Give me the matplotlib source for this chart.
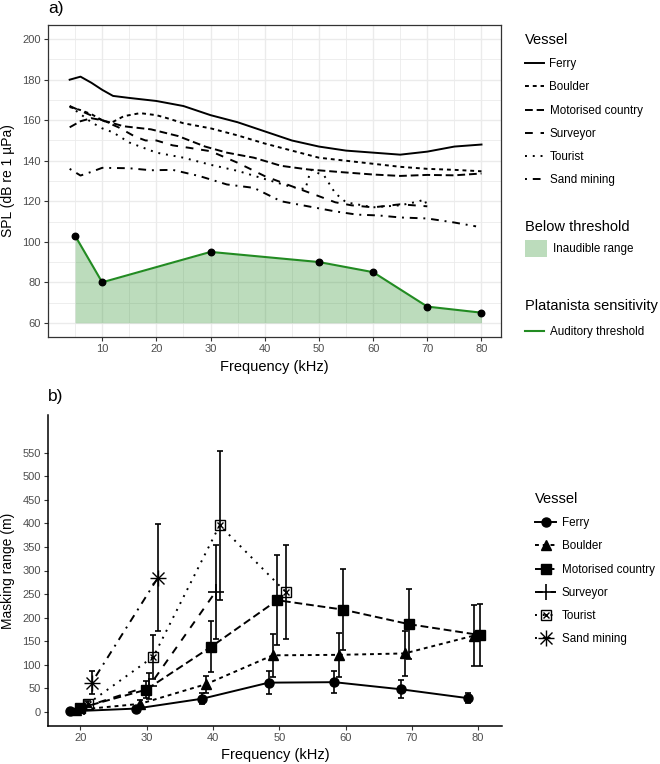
import matplotlib
matplotlib.use('Agg')
import matplotlib.pyplot as plt
from matplotlib.lines import Line2D
from matplotlib.patches import Patch
from matplotlib.ticker import MultipleLocator

plt.rcParams['font.family'] = ['Liberation Sans', 'DejaVu Sans']

# ---- panel a data: source levels (dB re 1 uPa) ----
ferry_f = [4, 6, 8, 10, 12, 15, 20, 25, 30, 35, 40, 45, 50, 55, 60, 65, 70, 75, 80]
ferry_v = [180, 181.5, 178.5, 175, 172, 171, 169.5, 167, 162.5, 159, 154.5, 150, 147,
           145, 144, 143, 144.5, 147, 148]
boulder_f = [4, 6, 8, 10, 11.5, 14, 17, 20, 22, 25, 30, 35, 40, 45, 50, 55, 60, 65, 70, 75, 80]
boulder_v = [166.5, 165, 163, 160, 158.5, 162, 163.5, 162.5, 161, 158.5, 156, 152.5, 148.5,
             145, 141.5, 140, 138.5, 137, 136, 135.5, 134.8]
motor_f = [4, 6, 8, 10, 12, 14, 19, 24, 29, 33, 38, 43, 48, 54, 60, 65, 70, 75, 80]
motor_v = [156.5, 159.5, 161, 160, 158.5, 157, 155.5, 152.2, 147, 144, 141.5, 137.5, 135.7,
           134.4, 133.2, 132.5, 133, 132.8, 133.7]
survey_f = [4, 7, 10, 13, 16, 18, 20, 23, 26, 30, 35, 40, 45, 50, 53, 56, 60, 65, 70]
survey_v = [167, 163.5, 160, 156.5, 152, 150, 150, 147.6, 146.4, 144.7, 139, 132.4, 127.4,
            122.5, 119.5, 118, 117, 118.5, 117.5]
tourist_f = [4, 6, 8, 10, 12, 15, 20, 25, 30, 35, 40, 45, 47.5, 48.5, 51, 53, 55, 60, 65,
             68.5, 69.5, 70]
tourist_v = [167, 163, 159, 156, 154, 149, 144, 141.5, 138, 135, 131, 127, 126, 135.5, 132.5,
             124, 119.5, 117, 118, 120, 121, 117]
sand_f = [4, 6, 8, 10, 15, 19, 23, 28, 33, 38, 43, 48, 53, 57, 61, 65, 70, 75, 79]
sand_v = [136, 132.7, 134.5, 136.5, 136.3, 135.3, 135.5, 132.4, 128.3, 126.6, 120, 117.5,
          115, 113.4, 113, 112, 111.5, 109.5, 107.6]

thr_f = [5, 10, 30, 50, 60, 70, 80]
thr_v = [103, 80, 95, 90, 85, 68, 65]

# ---- panel b data: masking range (m) ----
b_ferry_f = [18.4, 28.4, 38.4, 48.4, 58.3, 68.3, 78.5]
b_ferry_m = [1, 7, 28, 62, 63, 48, 29]
b_ferry_e = [2, 3, 11, 24, 24, 19, 11]
b_boulder_f = [19.3, 29.0, 39.0, 49.0, 59.0, 68.9, 79.4]
b_boulder_m = [4, 17, 59, 120, 121, 124, 162]
b_boulder_e = [3, 8, 18, 46, 47, 48, 64]
b_motor_f = [19.9, 29.9, 39.7, 49.7, 59.6, 69.6, 80.3]
b_motor_m = [8, 47, 138, 237, 217, 186, 163]
b_motor_e = [4, 18, 54, 96, 86, 74, 65]
b_survey_f = [20.5, 30.4, 40.4]
b_survey_m = [10, 55, 255]
b_survey_e = [5, 28, 100]
b_tourist_f = [21.1, 31.0, 41.0, 51.0]
b_tourist_m = [17, 117, 396, 254]
b_tourist_e = [6, 47, 158, 100]
b_sand_f = [21.7, 31.7]
b_sand_m = [62, 285]
b_sand_e = [24, 113]

vessels = ['Ferry', 'Boulder', 'Motorised country', 'Surveyor', 'Tourist', 'Sand mining']
styles = ['-', (0, (2, 2)), (0, (4, 2)), (0, (4, 4)), (0, (1, 3)), (0, (1, 3, 4, 3))]

W, H = 660, 764


def box(l, t, r, b):
    return [l / W, 1 - b / H, (r - l) / W, (b - t) / H]


fig = plt.figure(figsize=(W / 100, H / 100), dpi=100)
ax1 = fig.add_axes(box(48, 25, 501, 337))
ax2 = fig.add_axes(box(48, 415, 502, 726))

tick_col = '#4D4D4D'

# ---------------- panel a ----------------
ax1.fill_between(thr_f, 60, thr_v, color='forestgreen', alpha=0.3, lw=0)
ax1.plot(thr_f, thr_v, color='forestgreen', lw=1.5)
ax1.scatter(thr_f, thr_v, color='black', s=22, zorder=5)

series_a = [(ferry_f, ferry_v), (boulder_f, boulder_v), (motor_f, motor_v),
            (survey_f, survey_v), (tourist_f, tourist_v), (sand_f, sand_v)]
for (f, v), ls in zip(series_a, styles):
    ax1.plot(f, v, color='black', lw=1.4, linestyle=ls)

ax1.set_xlim(0, 83.6)
ax1.set_ylim(53, 207)
ax1.xaxis.set_minor_locator(MultipleLocator(5))
ax1.yaxis.set_minor_locator(MultipleLocator(10))
ax1.set_xticks(range(10, 81, 10))
ax1.set_yticks(range(60, 201, 20))
ax1.grid(which='major', color='#EBEBEB', lw=1.0)
ax1.grid(which='minor', color='#EBEBEB', lw=0.6)
ax1.set_axisbelow(True)
for s in ax1.spines.values():
    s.set_color('#333333')
    s.set_linewidth(0.9)
ax1.tick_params(which='major', length=3, color='#333333', labelsize=8, labelcolor=tick_col, pad=2)
ax1.tick_params(which='minor', length=0)
ax1.set_xlabel('Frequency (kHz)', fontsize=10.5, labelpad=4)
ax1.set_ylabel('SPL (dB re 1 µPa)', fontsize=10)
ax1.yaxis.set_label_coords(-0.072, 0.5)

# ---------------- panel b ----------------
series_b = [(b_ferry_f, b_ferry_m, b_ferry_e), (b_boulder_f, b_boulder_m, b_boulder_e),
            (b_motor_f, b_motor_m, b_motor_e), (b_survey_f, b_survey_m, b_survey_e),
            (b_tourist_f, b_tourist_m, b_tourist_e), (b_sand_f, b_sand_m, b_sand_e)]
marker_sets = [
    [dict(marker='o', ms=6.5)],
    [dict(marker='^', ms=7)],
    [dict(marker='s', ms=6.5)],
    [dict(marker='+', ms=11, mew=1.2)],
    [dict(marker='s', ms=7, mfc='none', mew=1.0), dict(marker='x', ms=5, mew=1.0)],
    [dict(marker='+', ms=11, mew=1.0), dict(marker='x', ms=8, mew=1.0)],
]
for (f, m, e), ls, mks in zip(series_b, styles, marker_sets):
    ax2.errorbar(f, m, yerr=e, fmt='none', ecolor='black', elinewidth=1.2,
                 capsize=2, capthick=1.2, zorder=2)
    ax2.plot(f, m, color='black', lw=1.4, linestyle=ls, zorder=3)
    for mk in mks:
        ax2.plot(f, m, color='black', linestyle='none', mec='black', zorder=4, **mk)

ax2.set_xlim(15.1, 83.6)
ax2.set_ylim(-30, 630)
ax2.set_xticks(range(20, 81, 10))
ax2.set_yticks(range(0, 551, 50))
for k in ['top', 'right']:
    ax2.spines[k].set_visible(False)
for k in ['left', 'bottom']:
    ax2.spines[k].set_color('black')
    ax2.spines[k].set_linewidth(1.1)
ax2.tick_params(length=3, color='#333333', labelsize=8, labelcolor=tick_col, pad=2)
ax2.set_xlabel('Frequency (kHz)', fontsize=10.5, labelpad=4)
ax2.set_ylabel('Masking range (m)', fontsize=10)
ax2.yaxis.set_label_coords(-0.072, 0.5)

fig.text(48 / W, 1 - 9 / H, 'a)', fontsize=12.5, va='center', ha='left')
fig.text(48 / W, 1 - 397 / H, 'b)', fontsize=12.5, va='center', ha='left')

# ---------------- legends ----------------
leg_kw = dict(loc='upper left', frameon=False, alignment='left', fontsize=8.4,
              title_fontsize=10.5, borderpad=0, borderaxespad=0, handletextpad=0.5)

h_a = [Line2D([], [], color='black', lw=1.4, linestyle=ls) for ls in styles]
fig.legend(h_a, vessels, bbox_to_anchor=(525 / W, 1 - 33 / H), handlelength=1.6,
           labelspacing=0.96, title='Vessel', **leg_kw)
fig.legend([Patch(facecolor='forestgreen', alpha=0.3, lw=0)], ['Inaudible range'],
           bbox_to_anchor=(525 / W, 1 - 220 / H), handlelength=1.9, handleheight=1.9,
           title='Below threshold', **leg_kw)
fig.legend([Line2D([], [], color='forestgreen', lw=1.5)], ['Auditory threshold'],
           bbox_to_anchor=(525 / W, 1 - 299 / H), handlelength=1.6, labelspacing=1.1,
           title='Platanista sensitivity', **leg_kw)

h_b = []
for ls, mks in zip(styles, marker_sets):
    parts = [Line2D([], [], color='black', lw=1.4, linestyle=ls)]
    for mk in mks:
        parts.append(Line2D([], [], color='black', linestyle='none', mec='black', **mk))
    h_b.append(tuple(parts))
fig.legend(h_b, vessels, bbox_to_anchor=(535 / W, 1 - 492 / H), handlelength=1.8,
           labelspacing=0.96, title='Vessel', **leg_kw)

fig.savefig('out.png', dpi=100)
